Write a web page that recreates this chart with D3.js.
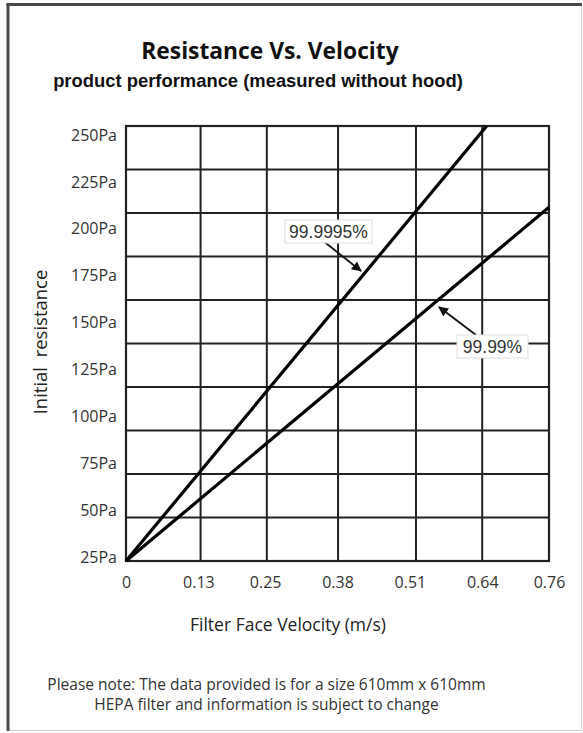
<!DOCTYPE html>
<html><head><meta charset="utf-8">
<script src="https://cdn.jsdelivr.net/npm/d3@7"></script>
<style>html,body{margin:0;padding:0;background:#fff;}svg{display:block;}</style>
</head><body>
<script>
// ---- data ----
const xTicks = [0, 0.13, 0.25, 0.38, 0.51, 0.64, 0.76];
const xTickLabels = ["0", "0.13", "0.25", "0.38", "0.51", "0.64", "0.76"];
const xGrid = [0.134, 0.253, 0.381, 0.521, 0.640];
const yTicks = [250, 225, 200, 175, 150, 125, 100, 75, 50, 25];
const yTickLabels = ["250Pa", "225Pa", "200Pa", "175Pa", "150Pa", "125Pa", "100Pa", "75Pa", "50Pa", "25Pa"];
const yGrid = [47.5, 70, 92.5, 115, 137.5, 160, 182.5, 205, 227.5];
const seriesNames = ["99.9995%", "99.99%"];
const velocity9999995 = [0, 0.648];
const resist9999995 = [25, 250];
const velocity9999 = [0, 0.76];
const resist9999 = [25, 208];

const W = 583, H = 733;
const svg = d3.select("body").append("svg").attr("width", W).attr("height", H);

// frame
svg.append("rect").attr("x", 8).attr("y", 5).attr("width", 573.5).attr("height", 725.5)
  .attr("fill", "#fff").attr("stroke", "#cfcfcf").attr("stroke-width", 1);
svg.append("line").attr("x1", 6.5).attr("x2", 582).attr("y1", 4.5).attr("y2", 4.5).attr("stroke", "#4a4a4a").attr("stroke-width", 3);
svg.append("line").attr("x1", 8).attr("x2", 8).attr("y1", 3).attr("y2", 731).attr("stroke", "#4a4a4a").attr("stroke-width", 3);

const x = d3.scaleLinear().domain([0, 0.76]).range([126, 549]);
const y = d3.scaleLinear().domain([25, 250]).range([561, 126]);
const yLab = d3.scaleLinear().domain([25, 250]).range([557, 135]);

// titles
svg.append("text").attr("x", 270).attr("y", 59).attr("text-anchor", "middle")
  .attr("font-family", "'Open Sans', sans-serif").attr("font-weight", "bold").attr("font-size", 22.8)
  .attr("fill", "#111").text("Resistance Vs. Velocity");
svg.append("text").attr("x", 258).attr("y", 87).attr("text-anchor", "middle")
  .attr("font-family", "'Liberation Sans', Arial, sans-serif").attr("font-weight", "bold").attr("font-size", 18.4)
  .attr("fill", "#111").text("product performance (measured without hood)");

// grid
const g = svg.append("g");
g.selectAll(".hg").data(yGrid).join("line")
  .attr("x1", x(0)).attr("x2", x(0.76)).attr("y1", d => y(d)).attr("y2", d => y(d))
  .attr("stroke", "#222").attr("stroke-width", 2);
g.selectAll(".vg").data(xGrid).join("line")
  .attr("y1", y(25)).attr("y2", y(250)).attr("x1", d => x(d)).attr("x2", d => x(d))
  .attr("stroke", "#222").attr("stroke-width", 2);
g.append("rect").attr("x", x(0)).attr("y", y(250)).attr("width", x(0.76) - x(0)).attr("height", y(25) - y(250))
  .attr("fill", "none").attr("stroke", "#222").attr("stroke-width", 2.2);

// axes tick labels
const yAxis = d3.axisLeft(yLab).tickValues(yTicks).tickSize(0).tickPadding(0)
  .tickFormat((d, i) => yTickLabels[i]);
const ya = svg.append("g").attr("transform", "translate(117,0)").call(yAxis);
ya.select(".domain").remove();
ya.selectAll("text").attr("font-family", "'Open Sans', sans-serif").attr("font-size", 16).attr("fill", "#333");

const xAxis = d3.axisBottom(x).tickValues(xTicks).tickSize(0).tickPadding(0)
  .tickFormat((d, i) => xTickLabels[i]);
const xa = svg.append("g").attr("transform", "translate(0,576.5)").call(xAxis);
xa.select(".domain").remove();
xa.selectAll("text").attr("font-family", "'Open Sans', sans-serif").attr("font-size", 16).attr("fill", "#333");

// axis titles
svg.append("text").attr("transform", "translate(47,342) rotate(-90)").attr("text-anchor", "middle")
  .attr("font-family", "'Open Sans', sans-serif").attr("font-size", 18.5).attr("fill", "#222")
  .attr("xml:space", "preserve").text("Initial  resistance");
svg.append("text").attr("x", 288).attr("y", 631).attr("text-anchor", "middle")
  .attr("font-family", "'Open Sans', sans-serif").attr("font-size", 17.5).attr("fill", "#222")
  .text("Filter Face Velocity (m/s)");

// note
const note = ["Please note: The data provided is for a size 610mm x 610mm", "HEPA filter and information is subject to change"];
svg.selectAll(".note").data(note).join("text")
  .attr("x", 266.5).attr("y", (d, i) => 690 + i * 20).attr("text-anchor", "middle")
  .attr("font-family", "'Open Sans', sans-serif").attr("font-size", 15.5).attr("fill", "#333")
  .text(d => d);

// lines
const line = d3.line().x(d => x(d[0])).y(d => y(d[1]));
const seriesData = [
  d3.zip(velocity9999995, resist9999995),
  d3.zip(velocity9999, resist9999)
];
svg.selectAll(".series").data(seriesData).join("path")
  .attr("d", line).attr("fill", "none").attr("stroke", "#000").attr("stroke-width", 3.2)
  .attr("stroke-linecap", "butt");

// annotations
const defs = svg.append("defs");
defs.append("marker").attr("id", "ah").attr("viewBox", "0 0 10 10").attr("refX", 9).attr("refY", 5)
  .attr("markerWidth", 10).attr("markerHeight", 10).attr("markerUnits", "userSpaceOnUse").attr("orient", "auto")
  .append("path").attr("d", "M0,0 L10,5 L0,10 z").attr("fill", "#111");

const ann = [
  {label: seriesNames[0], bx: 285, by: 220, bw: 87, bh: 23, ax1: 322, ay1: 240, ax2: 361, ay2: 271},
  {label: seriesNames[1], bx: 457, by: 335, bw: 71, bh: 23, ax1: 476, ay1: 335, ax2: 439, ay2: 307}
];
ann.forEach(a => {
  svg.append("line").attr("x1", a.ax1).attr("y1", a.ay1).attr("x2", a.ax2).attr("y2", a.ay2)
    .attr("stroke", "#111").attr("stroke-width", 1.8).attr("marker-end", "url(#ah)");
  svg.append("rect").attr("x", a.bx).attr("y", a.by).attr("width", a.bw).attr("height", a.bh)
    .attr("fill", "#fff").attr("stroke", "#ddd").attr("stroke-width", 1);
  svg.append("text").attr("x", a.bx + a.bw / 2).attr("y", a.by + a.bh / 2 + 6).attr("text-anchor", "middle")
    .attr("font-family", "'Liberation Sans', Arial, sans-serif").attr("font-size", 17.5).attr("fill", "#333")
    .text(a.label);
});
</script>
</body></html>
